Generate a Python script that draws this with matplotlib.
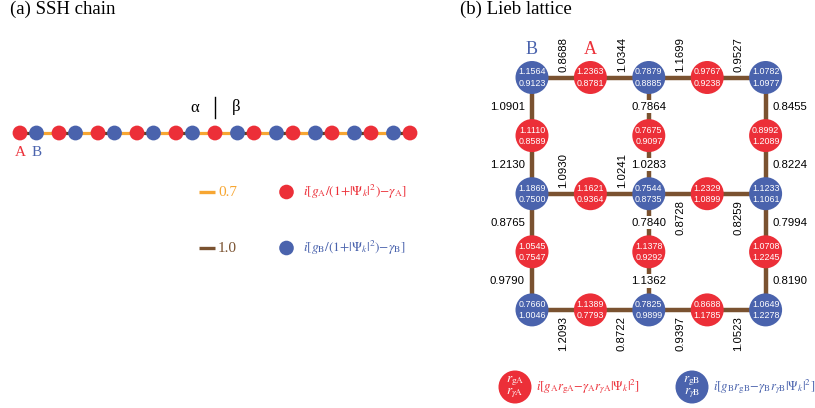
import numpy as np
import matplotlib
matplotlib.use("Agg")
import matplotlib.pyplot as plt
from matplotlib.patches import Circle

plt.rcParams["mathtext.fontset"] = "stix"
SERIF = "Liberation Serif"
SANS = "Liberation Sans"

RED = "#EC2F38"
BLUE = "#4A63AD"
ORANGE = "#F7A632"
BROWN = "#7A5230"
DARK = "#5C3E26"

# --- (a) cadena SSH: sitios y acoplos entre vecinos
ssh_sites = ["A", "B"] * 5 + ["A"] + ["B", "A"] * 5
ssh_couplings = [1.0, 0.7] * 5 + [0.7, 1.0] * 5
legend_couplings = [0.7, 1.0]
legend_terms = [r"$i[g_{\mathrm{A}}/(1{+}|\Psi_k|^2){-}\gamma_{\mathrm{A}}]$",
                r"$i[g_{\mathrm{B}}/(1{+}|\Psi_k|^2){-}\gamma_{\mathrm{B}}]$"]

# --- (b) red de Lieb: r_g (arriba) y r_gamma (abajo) en cada nodo
nan = np.nan
lieb_rg = np.array([
    [1.1564, 1.2363, 0.7879, 0.9767, 1.0782],
    [1.1110, nan, 0.7675, nan, 0.8992],
    [1.1869, 1.1621, 0.7544, 1.2329, 1.1233],
    [1.0545, nan, 1.1378, nan, 1.0708],
    [0.7660, 1.1389, 0.7825, 0.8688, 1.0649],
])
lieb_rgamma = np.array([
    [0.9123, 0.8781, 0.8885, 0.9238, 1.0977],
    [0.8589, nan, 0.9097, nan, 1.2089],
    [0.7500, 0.9364, 0.8735, 1.0899, 1.1061],
    [0.7547, nan, 0.9292, nan, 1.2245],
    [1.0046, 0.7793, 0.9899, 1.1785, 1.2278],
])
# enlaces horizontales (filas 0, 2, 4) y verticales (columnas 0, 2, 4)
h_bonds = [
    [0.8688, 1.0344, 1.1699, 0.9527],
    [1.0930, 1.0241, 0.8728, 0.8259],
    [1.2093, 0.8722, 0.9397, 1.0523],
]
v_bonds = [
    [1.0901, 1.2130, 0.8765, 0.9790],
    [0.7864, 1.0283, 0.7840, 1.1362],
    [0.8455, 0.8224, 0.7994, 0.8190],
]
h_side = [["up"] * 4, ["up", "up", "down", "down"], ["down"] * 4]
v_side = ["left", "center", "right"]

fig = plt.figure(figsize=(8.15, 4.08), dpi=100)
ax = fig.add_axes([0, 0, 1, 1])
ax.set_xlim(0, 815)
ax.set_ylim(408, 0)
ax.axis("off")

site_color = {"A": RED, "B": BLUE}
link_color = {0.7: ORANGE, 1.0: DARK}
link_len = {0.7: 22.5, 1.0: 16.5}

# ------------------------------------------------------------------ (a)
ax.text(10, 13.5, "(a) SSH chain", family=SERIF, fontsize=13.5, va="baseline")
y_chain = 133
xs = np.concatenate([[20], 20 + np.cumsum([link_len[c] for c in ssh_couplings])])
for i, c in enumerate(ssh_couplings):
    ax.plot([xs[i], xs[i + 1]], [y_chain, y_chain], color=link_color[c],
            lw=2.3, solid_capstyle="butt", zorder=1)
for x, s in zip(xs, ssh_sites):
    ax.add_patch(Circle((x, y_chain), 7.4, fc=site_color[s], ec="none", zorder=2))
ax.text(xs[0], 152, "A", color=RED, family=SERIF, fontsize=11, ha="center", va="center")
ax.text(xs[1], 152, "B", color=BLUE, family=SERIF, fontsize=11, ha="center", va="center")

x_mid = xs[len(xs) // 2]
ax.plot([x_mid, x_mid], [97, 118], color="k", lw=1)
ax.text(x_mid - 20, 108, "α", family=SERIF, fontsize=12, ha="center", va="center")
ax.text(x_mid + 21, 107, "β", family=SERIF, fontsize=12, ha="center", va="center")

for k, (c, term, s) in enumerate(zip(legend_couplings, legend_terms, ["A", "B"])):
    yl = 192 + 56 * k
    col = ORANGE if c == 0.7 else BROWN
    ax.plot([199, 215], [yl, yl], color=col, lw=2.4, solid_capstyle="butt")
    ax.text(218, yl, f"{c:.1f}", color=col, family=SERIF, fontsize=11, va="center")
    ax.add_patch(Circle((286.5, yl), 7.3, fc=site_color[s], ec="none"))
    ax.text(303, yl, term, color=site_color[s], fontsize=9.6, va="center")

# ------------------------------------------------------------------ (b)
ax.text(460, 13.5, "(b) Lieb lattice", family=SERIF, fontsize=13.5, va="baseline")
X = 532 + 58.4 * np.arange(5)
Y = 77.5 + 58.1 * np.arange(5)
R = 16.5
gap = 6

for r, row in zip([0, 2, 4], range(3)):
    for c in range(4):
        ax.plot([X[c], X[c + 1]], [Y[r], Y[r]], color=BROWN, lw=3.2, zorder=1)
        xm = (X[c] + X[c + 1]) / 2 + 2
        if h_side[row][c] == "up":
            ax.text(xm, Y[r] - gap, f"{h_bonds[row][c]:.4f}", rotation=90,
                    family=SANS, fontsize=8.2, ha="center", va="bottom")
        else:
            ax.text(xm, Y[r] + gap, f"{h_bonds[row][c]:.4f}", rotation=90,
                    family=SANS, fontsize=8.2, ha="center", va="top")

for c, col in zip([0, 2, 4], range(3)):
    for r in range(4):
        ax.plot([X[c], X[c]], [Y[r], Y[r + 1]], color=BROWN, lw=3.2, zorder=1)
        ym = (Y[r] + Y[r + 1]) / 2
        lab = f"{v_bonds[col][r]:.4f}"
        if v_side[col] == "left":
            ax.text(X[c] - 7, ym, lab, family=SANS, fontsize=8.2, ha="right", va="center")
        elif v_side[col] == "right":
            ax.text(X[c] + 7, ym, lab, family=SANS, fontsize=8.2, ha="left", va="center")
        else:
            ax.text(X[c], ym, lab, family=SANS, fontsize=8.2, ha="center", va="center",
                    zorder=2, bbox=dict(boxstyle="square,pad=0.15", fc="white", ec="none"))

for r in range(5):
    for c in range(5):
        if np.isnan(lieb_rg[r, c]):
            continue
        s = "B" if (r % 2 == 0 and c % 2 == 0) else "A"
        ax.add_patch(Circle((X[c], Y[r]), R, fc=site_color[s], ec="none", zorder=3))
        ax.text(X[c], Y[r] - 5.5, f"{lieb_rg[r, c]:.4f}", color="white", family=SANS,
                fontsize=6.4, ha="center", va="center", zorder=4)
        ax.text(X[c], Y[r] + 5.5, f"{lieb_rgamma[r, c]:.4f}", color="white", family=SANS,
                fontsize=6.4, ha="center", va="center", zorder=4)

ax.text(X[0], 49, "B", color=BLUE, family=SERIF, fontsize=13, ha="center", va="center")
ax.text(X[1], 49, "A", color=RED, family=SERIF, fontsize=13, ha="center", va="center")

# leyenda inferior
y_leg = 387
for s, xc in zip(["A", "B"], [515, 692]):
    ax.add_patch(Circle((xc, y_leg), R, fc=site_color[s], ec="none"))
    ax.text(xc, y_leg - 6, r"$r_{\mathrm{g%s}}$" % s, color="white", fontsize=9.5,
            ha="center", va="center")
    ax.text(xc, y_leg + 6, r"$r_{\gamma\mathrm{%s}}$" % s, color="white", fontsize=9.5,
            ha="center", va="center")
    ax.text(xc + 21, y_leg,
            r"$i[g_{\mathrm{%s}}r_{\mathrm{g%s}}{-}\gamma_{\mathrm{%s}}r_{\gamma\mathrm{%s}}|\Psi_k|^2]$"
            % (s, s, s, s), color=site_color[s], fontsize=9.2, va="center")

fig.savefig("out.png", dpi=100)
